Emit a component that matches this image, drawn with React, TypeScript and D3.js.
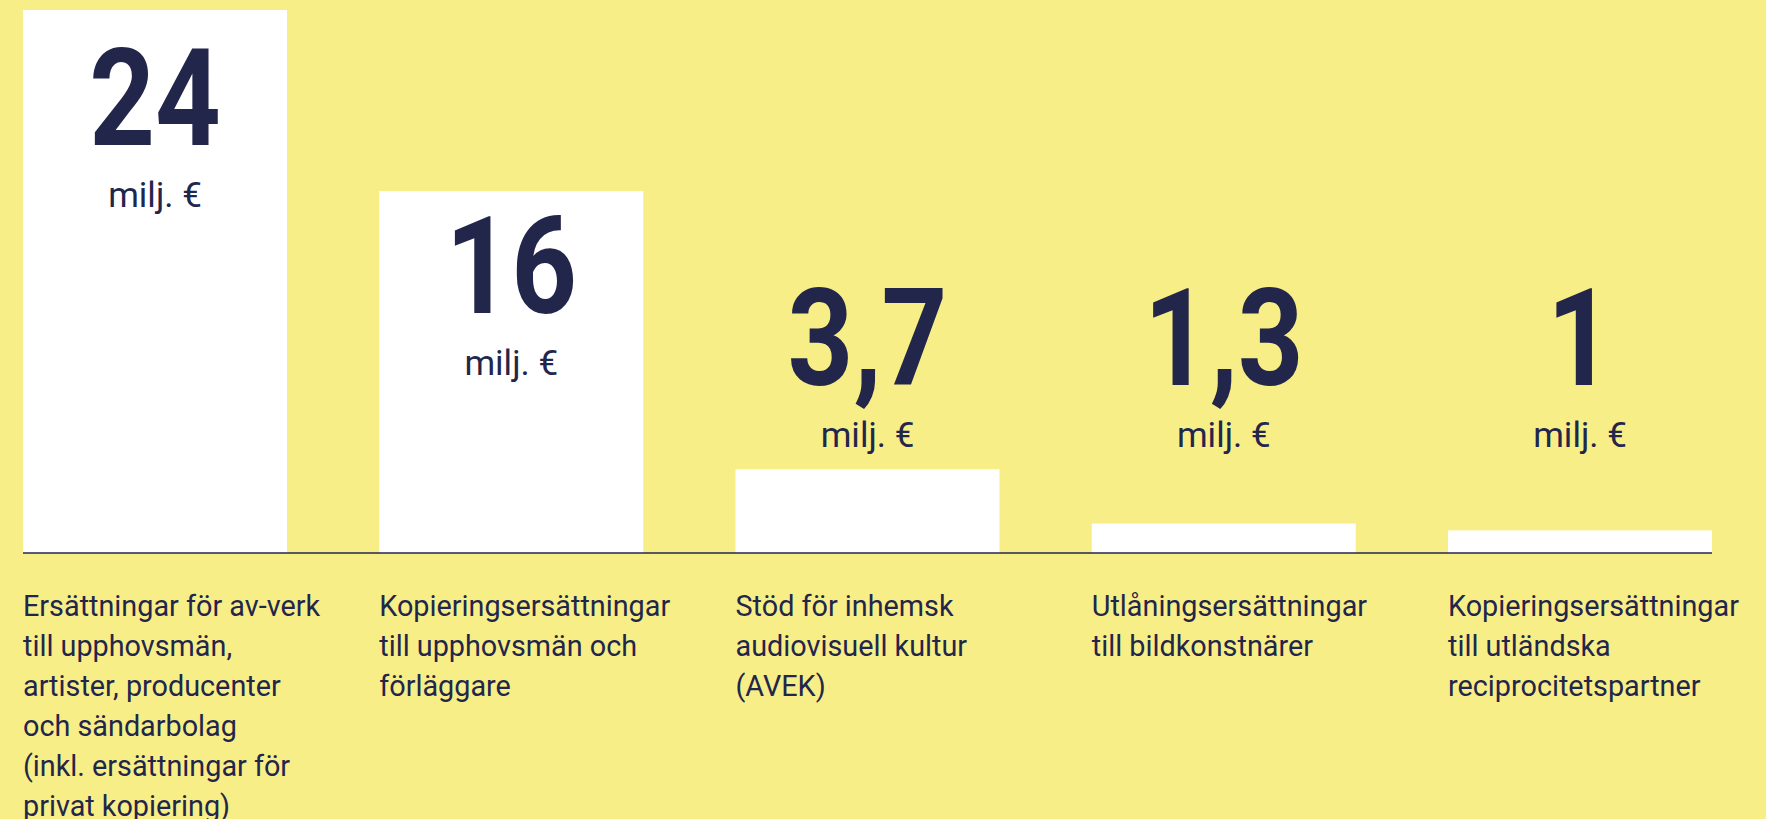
import React, { useEffect } from "react";
import * as d3 from "d3";

const categories = ["a", "b", "c", "d", "e"];
const values = [24, 16, 3.7, 1.3, 1];
const valueLabels = ["24", "16", "3,7", "1,3", "1"];
const unitLabel = "milj. €";
const descriptions: string[][] = [
  ["Ersättningar för av-verk", "till upphovsmän,", "artister, producenter", "och sändarbolag", "(inkl. ersättningar för", "privat kopiering)"],
  ["Kopieringsersättningar", "till upphovsmän och", "förläggare"],
  ["Stöd för inhemsk", "audiovisuell kultur", "(AVEK)"],
  ["Utlåningsersättningar", "till bildkonstnärer"],
  ["Kopieringsersättningar", "till utländska", "reciprocitetspartner"],
];

const W = 1766;
const H = 819;
const BG = "#f8ee88";
const INK = "#23264b";

export default function App() {
  useEffect(() => {
    document.body.style.margin = "0";
    document.body.style.background = BG;
  }, []);

  const x = d3.scaleBand<string>().domain(categories).range([23, 1712]).paddingInner(0.259).paddingOuter(0);
  const y = d3.scaleLinear().domain([0, 24]).range([553, 10]);
  const bw = x.bandwidth();

  const insideThreshold = 200;
  const smallTops = values.filter((v) => y(0) - y(v) < insideThreshold).map((v) => y(v));
  const floorLevel = Math.min(...smallTops) - 84;

  return (
    <svg width={W} height={H} style={{ display: "block" }} fontFamily="Roboto, 'Noto Sans', sans-serif">
      <rect x={0} y={0} width={W} height={H} fill={BG} />
      {values.map((v, i) => {
        const cx = (x(categories[i]) as number) + bw / 2;
        const top = y(v);
        const h = y(0) - top;
        const numBase = h >= insideThreshold ? top + 0.07 * h + 97 : floorLevel;
        return (
          <g key={i}>
            <rect x={x(categories[i])} y={top} width={bw} height={h} fill="#ffffff" />
            <text
              transform={`translate(${cx},${numBase}) scale(0.85,1)`}
              textAnchor="middle"
              fontWeight={700}
              fontSize={135}
              fill={INK}
            >
              {valueLabels[i]}
            </text>
            <text
              transform={`translate(${cx},${numBase + 62}) scale(1,1)`}
              textAnchor="middle"
              fontSize={35}
              fill={INK}
            >
              {unitLabel}
            </text>
          </g>
        );
      })}
      <line x1={23} x2={1712} y1={y(0)} y2={y(0)} stroke={INK} strokeWidth={1.5} />
      {descriptions.map((lines, i) => (
        <g key={i}>
          {lines.map((ln, j) => (
            <text
              key={j}
              transform={`translate(${x(categories[i])},${616 + j * 40}) scale(0.96,1)`}
              fontSize={30}
              fill={INK}
            >
              {ln}
            </text>
          ))}
        </g>
      ))}
    </svg>
  );
}
